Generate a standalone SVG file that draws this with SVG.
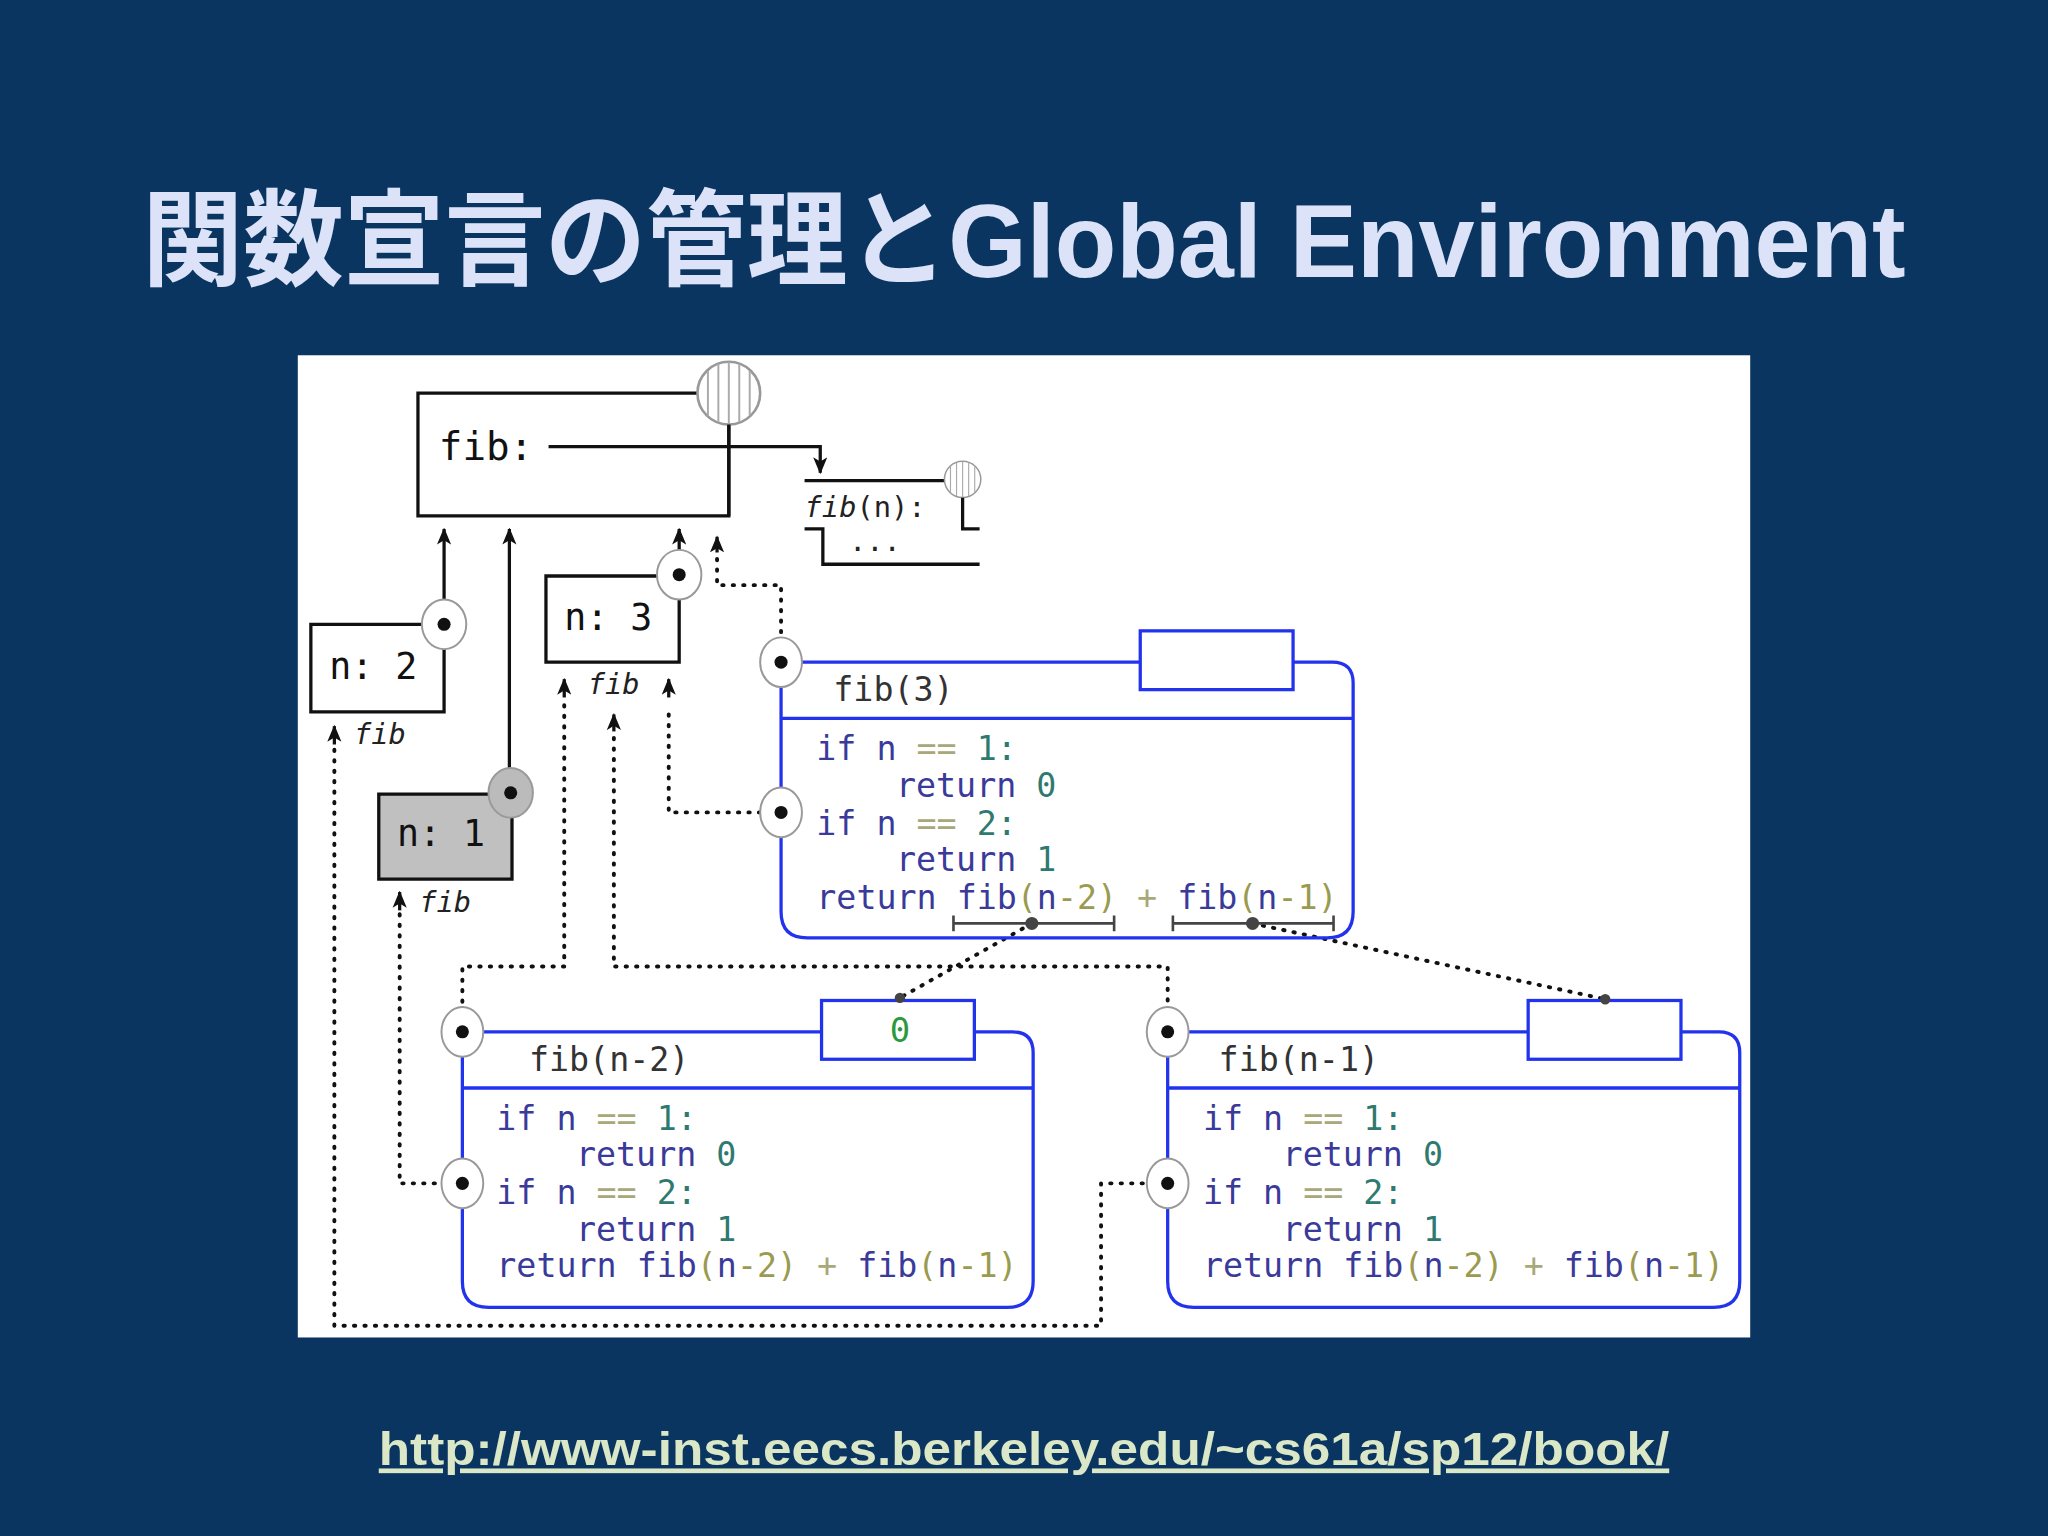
<svg xmlns="http://www.w3.org/2000/svg" width="2048" height="1536" viewBox="0 0 2048 1536">
<defs>
<marker id="ah" viewBox="0 0 12 10" refX="11" refY="5" markerWidth="13" markerHeight="11" markerUnits="userSpaceOnUse" orient="auto">
<path d="M0,0 L12,5 L0,10 L3,5 Z" fill="#111"/>
</marker>
<g id="globe">
<ellipse cx="0" cy="0" rx="24" ry="24" fill="#fff" stroke="#999" stroke-width="2"/>
<path d="M-16,-17 V17 M-8,-22 V22 M0,-24 V24 M8,-22 V22 M16,-17 V17" stroke="#aaa" stroke-width="1.5"/>
</g>
</defs>
<style>
.m{font-family:"DejaVu Sans Mono","Liberation Mono",monospace}
.box{fill:#fff;stroke:#111;stroke-width:2.5}
.ln{stroke:#111;stroke-width:2.5;fill:none}
.dot{stroke:#111;stroke-width:3;stroke-dasharray:1 7;stroke-linecap:round;fill:none}
.bl{stroke:#2233ee;stroke-width:2.5;fill:none}
.pt{fill:#fff;stroke:#999;stroke-width:1.5}
.k{fill:#3a3a9a}.o{fill:#a8a878}.n{fill:#2f7a70}.p{fill:#9a9a50}.g{fill:#333}
.code{font-size:25.5px}
</style>
<rect width="2048" height="1536" fill="#0b3561"/>
<g transform="scale(1.30612)">
<text x="784" y="212" text-anchor="middle" font-family="'Liberation Sans','Noto Sans CJK JP',sans-serif" font-weight="bold" font-size="80" fill="#dce3f8" textLength="1350" lengthAdjust="spacingAndGlyphs">関数宣言の管理とGlobal Environment</text>
<rect x="228" y="272" width="1112" height="752" fill="#fff"/>

<g id="global">
<path class="box" d="M320,301 H558 V395 H320 Z"/>
<text x="336" y="352" class="m" font-size="30" fill="#111">fib:</text>
<use href="#globe" x="558" y="301"/>
<line x1="558" y1="325" x2="558" y2="395" class="ln"/>
</g>

<g id="connectors">
<path class="ln" d="M420,342 H628 V362" marker-end="url(#ah)"/>
<path class="ln" d="M340,478 V405" marker-end="url(#ah)"/>
<path class="ln" d="M390,607 V405" marker-end="url(#ah)"/>
<path class="ln" d="M520,440 V405" marker-end="url(#ah)"/>
<path class="dot" d="M598,500 V448 H549 V428"/>
<path class="ln" d="M549,423 V411" stroke-width="1" marker-end="url(#ah)"/>
<path class="dot" d="M590,622 H512 V540"/>
<path class="ln" d="M512,534 V520" stroke-width="1" marker-end="url(#ah)"/>
<path class="dot" d="M432,540 V740 H354 V778"/>
<path class="ln" d="M432,534 V520" stroke-width="1" marker-end="url(#ah)"/>
<path class="dot" d="M470,565 V740 H894 V778"/>
<path class="ln" d="M470,560 V547" stroke-width="1" marker-end="url(#ah)"/>
<path class="dot" d="M256,574 V1015 H843 V906 H880"/>
<path class="ln" d="M256,570 V556" stroke-width="1" marker-end="url(#ah)"/>
<path class="dot" d="M306,700 V906 H340"/>
<path class="ln" d="M306,697 V683" stroke-width="1" marker-end="url(#ah)"/>
<path class="dot" d="M790,707 L689,764"/>
<path class="dot" d="M959,707 L1229,765"/>
</g>

<g id="funcobj">
<line x1="616" y1="368" x2="724" y2="368" class="ln"/>
<g transform="translate(737,367) scale(0.58)"><use href="#globe"/></g>
<text x="616" y="396" class="m" font-size="22" fill="#222"><tspan font-style="italic">fib</tspan>(n):</text>
<path class="ln" d="M737,381 V405 H750"/>
<text x="650" y="422" class="m" font-size="22" fill="#222">...</text>
<path class="ln" d="M616,405 H630 V432 H750"/>
</g>

<g id="frame-n2">
<path class="box" d="M324,478 H238 V545 H340 V494"/>
<ellipse cx="340" cy="478" rx="17" ry="19" class="pt"/>
<circle cx="340" cy="478" r="5" fill="#111"/>
<text x="252" y="520" class="m" font-size="28" fill="#111">n: 2</text>
<text x="271" y="570" class="m" font-size="22" font-style="italic" fill="#222">fib</text>
</g>

<g id="frame-n1">
<path d="M374,608 H290 V673 H392 V624" fill="#c0c0c0" stroke="#111" stroke-width="2.5"/>
<ellipse cx="391" cy="607" rx="17" ry="19" fill="#bbb" stroke="#999" stroke-width="1.5"/>
<circle cx="391" cy="607" r="5" fill="#111"/>
<text x="304" y="648" class="m" font-size="28" fill="#111">n: 1</text>
<text x="321" y="698" class="m" font-size="22" font-style="italic" fill="#222">fib</text>
</g>

<g id="frame-n3">
<path class="box" d="M504,441 H418 V507 H520 V457"/>
<ellipse cx="520" cy="440" rx="17" ry="19" class="pt"/>
<circle cx="520" cy="440" r="5" fill="#111"/>
<text x="432" y="482" class="m" font-size="28" fill="#111">n: 3</text>
<text x="450" y="531" class="m" font-size="22" font-style="italic" fill="#222">fib</text>
</g>

<g id="fib3">
<path class="bl" d="M598,507 H873 M990,507 H1020 Q1036,507 1036,523 V698 Q1036,718 1016,718 H618 Q598,718 598,698 V507 M598,550 H1036"/>
<rect x="873" y="483" width="117" height="45" class="bl" fill="#fff"/>
<text x="638" y="537" class="m code g">fib(3)</text>
<text class="m code" x="625" y="582"><tspan class="k">if n </tspan><tspan class="o">==</tspan><tspan class="n"> 1:</tspan></text>
<text class="m code" x="686" y="610"><tspan class="k">return </tspan><tspan class="n">0</tspan></text>
<text class="m code" x="625" y="639"><tspan class="k">if n </tspan><tspan class="o">==</tspan><tspan class="n"> 2:</tspan></text>
<text class="m code" x="686" y="667"><tspan class="k">return </tspan><tspan class="n">1</tspan></text>
<text class="m code" x="625" y="696"><tspan class="k">return fib</tspan><tspan class="p">(</tspan><tspan class="k">n</tspan><tspan class="p">-2)</tspan><tspan class="o"> + </tspan><tspan class="k">fib</tspan><tspan class="p">(</tspan><tspan class="k">n</tspan><tspan class="p">-1)</tspan></text>
<path d="M730,707 H853 M730,701 V713 M853,701 V713 M898,707 H1021 M898,701 V713 M1021,701 V713" stroke="#444" stroke-width="2"/>
<circle cx="790" cy="707" r="5" fill="#444"/>
<circle cx="959" cy="707" r="5" fill="#444"/>
<ellipse cx="598" cy="507" rx="16" ry="19" class="pt"/><circle cx="598" cy="507" r="5" fill="#111"/>
<ellipse cx="598" cy="622" rx="16" ry="19" class="pt"/><circle cx="598" cy="622" r="5" fill="#111"/>
</g>

<g id="fibn2">
<path class="bl" d="M354,790 H629 M746,790 H775 Q791,790 791,806 V981 Q791,1001 771,1001 H374 Q354,1001 354,981 V790 M354,833 H791"/>
<rect x="629" y="766" width="117" height="45" class="bl" fill="#fff"/>
<text x="689" y="798" text-anchor="middle" class="m" font-size="26" fill="#2a9a3a">0</text>
<text x="405" y="820" class="m code g">fib(n-2)</text>
<text class="m code" x="380" y="865"><tspan class="k">if n </tspan><tspan class="o">==</tspan><tspan class="n"> 1:</tspan></text>
<text class="m code" x="441" y="893"><tspan class="k">return </tspan><tspan class="n">0</tspan></text>
<text class="m code" x="380" y="922"><tspan class="k">if n </tspan><tspan class="o">==</tspan><tspan class="n"> 2:</tspan></text>
<text class="m code" x="441" y="950"><tspan class="k">return </tspan><tspan class="n">1</tspan></text>
<text class="m code" x="380" y="978"><tspan class="k">return fib</tspan><tspan class="p">(</tspan><tspan class="k">n</tspan><tspan class="p">-2)</tspan><tspan class="o"> + </tspan><tspan class="k">fib</tspan><tspan class="p">(</tspan><tspan class="k">n</tspan><tspan class="p">-1)</tspan></text>
<ellipse cx="354" cy="790" rx="16" ry="19" class="pt"/><circle cx="354" cy="790" r="5" fill="#111"/>
<ellipse cx="354" cy="906" rx="16" ry="19" class="pt"/><circle cx="354" cy="906" r="5" fill="#111"/>
<circle cx="689" cy="764" r="4" fill="#444"/>
</g>

<g id="fibn1">
<path class="bl" d="M894,790 H1170 M1287,790 H1316 Q1332,790 1332,806 V981 Q1332,1001 1312,1001 H914 Q894,1001 894,981 V790 M894,833 H1332"/>
<rect x="1170" y="766" width="117" height="45" class="bl" fill="#fff"/>
<text x="933" y="820" class="m code g">fib(n-1)</text>
<text class="m code" x="921" y="865"><tspan class="k">if n </tspan><tspan class="o">==</tspan><tspan class="n"> 1:</tspan></text>
<text class="m code" x="982" y="893"><tspan class="k">return </tspan><tspan class="n">0</tspan></text>
<text class="m code" x="921" y="922"><tspan class="k">if n </tspan><tspan class="o">==</tspan><tspan class="n"> 2:</tspan></text>
<text class="m code" x="982" y="950"><tspan class="k">return </tspan><tspan class="n">1</tspan></text>
<text class="m code" x="921" y="978"><tspan class="k">return fib</tspan><tspan class="p">(</tspan><tspan class="k">n</tspan><tspan class="p">-2)</tspan><tspan class="o"> + </tspan><tspan class="k">fib</tspan><tspan class="p">(</tspan><tspan class="k">n</tspan><tspan class="p">-1)</tspan></text>
<ellipse cx="894" cy="790" rx="16" ry="19" class="pt"/><circle cx="894" cy="790" r="5" fill="#111"/>
<ellipse cx="894" cy="906" rx="16" ry="19" class="pt"/><circle cx="894" cy="906" r="5" fill="#111"/>
<circle cx="1229" cy="765" r="4" fill="#444"/>
</g>

<text x="784" y="1122" text-anchor="middle" font-family="'Liberation Sans',sans-serif" font-weight="bold" font-size="36" fill="#dbe8c8" text-decoration="underline" textLength="988" lengthAdjust="spacingAndGlyphs">http://www-inst.eecs.berkeley.edu/~cs61a/sp12/book/</text>
</g>
</svg>
